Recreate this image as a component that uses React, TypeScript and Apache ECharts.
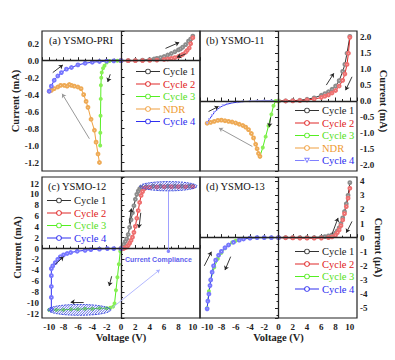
import React, { useEffect, useRef } from "react";
import * as echarts from "echarts";

// ---------- data (V, I) ----------
const aCycle1: number[][] = [[0,0],[1,0],[2,0.002],[3,0.006],[4,0.012],[4.6,0.02],[5,0.027],[5.5,0.037],[6,0.05],[6.5,0.067],[7,0.085],[7.5,0.105],[8,0.128],[8.3,0.14],[8.6,0.16],[9,0.19],[9.4,0.23],[9.7,0.255],[10,0.29]];
const aCycle2: number[][] = [[10,0.27],[9.7,0.2],[9.5,0.15],[9.2,0.12],[9,0.1],[8.6,0.075],[8.3,0.06],[8,0.05],[7.5,0.037],[7,0.028],[6.5,0.02],[6,0.014],[5,0.007],[4,0.003],[3,0.001],[2,0],[1,0],[0,0]];
const aCycle3: number[][] = [[0,0],[-0.5,0],[-1,0],[-1.6,-0.003],[-2,-0.02],[-2.3,-0.06],[-2.5,-0.09],[-2.68,-0.14],[-2.75,-0.2],[-2.8,-0.29],[-2.82,-0.45],[-2.85,-0.65],[-2.88,-0.85],[-2.9,-1.0]];
const aNDR: number[][] = [[-3.0,-1.2],[-3.2,-1.1],[-3.47,-0.96],[-3.7,-0.82],[-4.17,-0.69],[-4.6,-0.55],[-4.86,-0.48],[-5.2,-0.4],[-5.56,-0.33],[-6.0,-0.31],[-6.5,-0.3],[-6.9,-0.29],[-7.2,-0.28],[-7.5,-0.3],[-7.9,-0.29],[-8.4,-0.29],[-8.8,-0.31],[-9.3,-0.33],[-9.7,-0.35],[-10,-0.36]];
const aCycle4: number[][] = [[-10,-0.36],[-9.7,-0.3],[-9.3,-0.23],[-8.8,-0.18],[-8.3,-0.14],[-7.6,-0.1],[-6.9,-0.08],[-6,-0.05],[-5,-0.03],[-4,-0.018],[-3,-0.01],[-2,-0.005],[-1,-0.002],[0,0]];

const bCycle1: number[][] = [[0,0],[1,0.002],[2,0.01],[3,0.025],[4,0.055],[5,0.1],[6,0.18],[6.5,0.23],[7,0.29],[7.5,0.37],[8,0.47],[8.5,0.64],[9,0.93],[9.3,1.15],[9.6,1.5],[10,2.03]];
const bCycle2: number[][] = [[10,2.0],[9.8,1.5],[9.6,1.15],[9.3,0.85],[9,0.65],[8.5,0.47],[8,0.33],[7.5,0.25],[7,0.19],[6.5,0.15],[6,0.11],[5,0.06],[4,0.03],[3,0.012],[2,0.004],[1,0],[0,0]];
const bCycle3: number[][] = [[0,0],[-0.4,0],[-0.7,-0.15],[-1.0,-0.42],[-1.4,-0.78],[-1.8,-1.12],[-2.2,-1.46],[-2.6,-1.74]];
const bNDR: number[][] = [[-2.6,-1.74],[-2.8,-1.65],[-3.0,-1.5],[-3.2,-1.36],[-3.5,-1.16],[-3.8,-1.02],[-4.2,-0.9],[-4.6,-0.82],[-5.0,-0.77],[-5.5,-0.73],[-6.0,-0.69],[-6.5,-0.66],[-7.0,-0.64],[-7.5,-0.62],[-8.0,-0.6],[-8.5,-0.61],[-9.0,-0.64],[-9.5,-0.67],[-10,-0.7]];
const bCycle4: number[][] = [[-10,-0.7],[-9.7,-0.58],[-9.3,-0.45],[-9,-0.36],[-8.6,-0.27],[-8.2,-0.2],[-7.8,-0.15],[-7.2,-0.1],[-6.5,-0.06],[-5.8,-0.04],[-5,-0.02],[-4,-0.01],[-3,-0.005],[-2,0],[-1,0],[0,0]];

const cCycle1: number[][] = [[0,0],[0.2,0.3],[0.4,0.8],[0.6,1.3],[0.8,1.8],[1.0,2.6],[1.2,3.9],[1.4,5.3],[1.6,6.6],[1.8,7.9],[2.0,9.1],[2.2,10.0],[2.4,10.6],[2.6,11.0],[2.8,11.3],[3.5,11.4],[4.5,11.5],[5.5,11.5],[6.5,11.5],[7.5,11.5],[8.5,11.5],[9.5,11.5],[10,11.5]];
const cCycle2: number[][] = [[10,11.4],[9,11.4],[8,11.4],[7,11.4],[6,11.4],[5,11.35],[4,11.3],[3.4,11.2],[3.2,11.0],[3.0,10.5],[2.8,9.8],[2.6,8.5],[2.4,7.0],[2.2,5.6],[2.0,4.1],[1.8,3.0],[1.6,2.1],[1.4,1.5],[1.2,1.0],[1.0,0.6],[0.8,0.3],[0.5,0.1],[0.3,0],[0,0]];
const cCycle3: number[][] = [[0,0],[-0.1,-0.5],[-0.3,-2.9],[-0.5,-5.3],[-0.7,-7.7],[-0.9,-10.1],[-1.1,-10.7],[-1.5,-10.9],[-2,-11.0],[-3,-11.0],[-4,-11.1],[-5,-11.1],[-6,-11.2],[-7,-11.2],[-8,-11.3],[-9,-11.3],[-10,-11.3]];
const cCycle4: number[][] = [[-9.7,-11.2],[-9.7,-9],[-9.7,-7],[-9.7,-5],[-9.7,-3.7],[-9.5,-3.2],[-9.15,-2.6],[-8.8,-2.0],[-8.45,-1.5],[-8.0,-1.15],[-7.5,-0.9],[-7,-0.72],[-6.1,-0.5],[-5,-0.32],[-4.2,-0.2],[-3,-0.1],[-1.9,0],[-1,0],[0,0]];

const dCycle1: number[][] = [[0,0],[1,0],[2,0],[3,0],[4,0],[5,0.01],[6,0.04],[6.5,0.07],[7,0.12],[7.5,0.2],[8,0.33],[8.25,0.48],[8.5,0.7],[8.75,1.0],[9,1.4],[9.25,1.85],[9.5,2.4],[9.75,3.0],[10,3.9]];
const dCycle2: number[][] = [[10,3.5],[9.75,2.8],[9.5,2.2],[9.25,1.7],[9,1.25],[8.75,0.85],[8.5,0.55],[8.25,0.35],[8,0.18],[7.5,0.05],[7,0],[6,-0.03],[5,-0.04],[4,-0.04],[3,-0.03],[2,-0.02],[1,-0.01],[0,0]];
const dCycle3: number[][] = [[0,0],[-1,0],[-2,0],[-3,0],[-4,-0.02],[-5,-0.08],[-6,-0.22],[-6.5,-0.35],[-7,-0.52],[-7.5,-0.75],[-8,-1.08],[-8.5,-1.5],[-9,-2.1],[-9.5,-3.0],[-9.75,-3.8],[-10,-5.0]];
const dCycle4: number[][] = [[-10,-5.05],[-9.9,-4.5],[-9.75,-4.0],[-9.6,-3.4],[-9.5,-3.0],[-9.3,-2.45],[-9.1,-2.0],[-8.8,-1.6],[-8.4,-1.25],[-8,-0.98],[-7.5,-0.72],[-7,-0.52],[-6.3,-0.33],[-5.5,-0.18],[-4.9,-0.1],[-4,-0.04],[-3,0],[-2,0],[-1,0],[0,0]];

// arrows [x1, y1, x2, y2] in data units
const aArrows: number[][] = [[-9.5,-0.14,-8.1,-0.05],[-1.5,-0.16,-1.85,-0.25],[6.2,0.145,8.1,0.215],[9.0,0.08,7.8,0.04]];
const aCurvedArrow: number[] = [-4.4,-0.92,-8.2,-0.39];
const bArrows: number[][] = [[-9.8,-0.33,-8.4,-0.17],[-1.1,-0.52,-1.3,-0.82],[6.7,0.5,7.75,0.87],[10.3,0.76,9.4,0.34]];
const bCurvedArrow: number[] = [-3.66,-1.43,-8.35,-0.85];
const cArrows: number[][] = [[1.15,4.6,1.45,7.4],[2.75,6.6,2.5,3.8],[-9.15,-2.9,-8.0,-1.5],[-1.3,-5.1,-1.65,-6.9],[-5.2,-9.85,-7.0,-9.85]];
const dArrows: number[][] = [[-10.4,-2.0,-9.4,-1.0],[-6.7,-1.35,-7.5,-2.3],[7.5,0.25,8.35,1.4],[10.3,1.15,9.5,0.35]];

// current compliance annotations (panel c)
const cComplianceLine: number[] = [6.6, 10.7, 6.6, -0.5];
const cComplianceCurve: number[] = [-1.2, -10.9, 5.4, -3.9];
const cComplianceLabel: number[] = [5.2, -2.0];
const cEllipses: number[][] = [[6.6, 11.5, 4.0, 0.85], [-5.8, -11.3, 4.4, 1.0]];

const panelTitles = ["(a) YSMO-PRI", "(b) YSMO-11", "(c) YSMO-12", "(d) YSMO-13"];
const yRanges: number[][] = [[-1.3, 0.35], [-2.2, 2.2], [-12.8, 13.2], [-5.7, 4.3]];
const ySplits = [8, 8, 13, 10];
const yNames = ["Current (mA)", "Current (mA)", "Current (mA)", "Current (\u03bcA)"];
const xName = "Voltage (V)";

const FONT = "'Liberation Serif', 'Times New Roman', serif";

const STY: Record<string, { line: string; mark: string; text: string }> = {
  "Cycle 1": { line: "#333333", mark: "#8c8c8c", text: "#1a1a1a" },
  "Cycle 2": { line: "#e02828", mark: "#ee7070", text: "#e02020" },
  "Cycle 3": { line: "#55ee22", mark: "#88f055", text: "#55e020" },
  NDR: { line: "#f0a040", mark: "#eeaa55", text: "#ee9a30" },
  "Cycle 4": { line: "#3030f0", mark: "#7777ff", text: "#2a2aee" },
};

// legend icons: line with an open marker
const ICON_CIRCLE =
  "path://M0,2.5H9.3V3.5H0Z M14.7,2.5H24V3.5H14.7Z M9.2,3A2.8,2.8 0 1 1 14.8,3A2.8,2.8 0 1 1 9.2,3Z M10.1,3A1.9,1.9 0 1 0 13.9,3A1.9,1.9 0 1 0 10.1,3Z";
const ICON_TRI =
  "path://M0,2.5H9.5V3.5H0Z M14.5,2.5H24V3.5H14.5Z M9,0.3H15L12,5.7Z M10.6,1.2L12,3.8L13.4,1.2Z";

export default function App() {
  const ref = useRef<HTMLDivElement>(null);
  useEffect(() => {
    if (!ref.current) return;
    const chart = echarts.init(ref.current, undefined, { renderer: "svg" });

    const grids = [
      { left: 42, top: 31, width: 158, height: 140 },
      { left: 200, top: 31, width: 157, height: 140 },
      { left: 42, top: 177, width: 158, height: 141 },
      { left: 200, top: 177, width: 157, height: 141 },
    ].map((g) => ({ ...g, show: true, borderColor: "#222", borderWidth: 1.2, backgroundColor: "transparent" }));

    const xAxes = [0, 1, 2, 3].map((gi) => {
      const showLabel = gi >= 2;
      return {
        type: "value", gridIndex: gi, min: -11, max: 11, splitNumber: 11,
        axisLine: { show: false }, splitLine: { show: false },
        axisTick: { show: true, inside: true, length: 3.5, lineStyle: { color: "#222", width: 1 } },
        minorTick: { show: true, splitNumber: 2, length: 2, lineStyle: { color: "#222" } },
        axisLabel: { show: showLabel, fontSize: 9, fontWeight: "bold", fontFamily: FONT, color: "#222", margin: 4, showMinLabel: false, showMaxLabel: false },
        name: showLabel ? xName : "", nameLocation: "middle", nameGap: 13,
        nameTextStyle: { fontSize: 10.5, fontWeight: "bold", fontFamily: FONT, color: "#222" },
      };
    });

    const yAxes = [0, 1, 2, 3].map((gi) => {
      const right = gi === 1 || gi === 3;
      const dec = gi < 2 ? 1 : 0;
      return {
        type: "value", gridIndex: gi, min: yRanges[gi][0], max: yRanges[gi][1], splitNumber: ySplits[gi],
        position: right ? "right" : "left",
        axisLine: { show: false }, splitLine: { show: false },
        axisTick: { show: true, inside: true, length: 3.5, lineStyle: { color: "#222", width: 1 } },
        minorTick: { show: true, splitNumber: 2, length: 2, lineStyle: { color: "#222" } },
        axisLabel: {
          fontSize: 9, fontWeight: "bold", fontFamily: FONT, color: "#222", margin: 3,
          showMinLabel: false, showMaxLabel: false,
          formatter: (v: number) => (Math.abs(v) < 1e-9 ? 0 : v).toFixed(dec),
        },
        name: yNames[gi], nameLocation: "middle", nameGap: right ? 16 : 17, nameRotate: right ? -90 : 90,
        nameTextStyle: { fontSize: 10.5, fontWeight: "bold", fontFamily: FONT, color: "#222" },
      };
    });

    const series: any[] = [];
    const panels: { p: string; gi: number; items: [string, number[][]][] }[] = [
      { p: "a", gi: 0, items: [["Cycle 1", aCycle1], ["Cycle 2", aCycle2], ["Cycle 3", aCycle3], ["NDR", aNDR], ["Cycle 4", aCycle4]] },
      { p: "b", gi: 1, items: [["Cycle 1", bCycle1], ["Cycle 2", bCycle2], ["Cycle 3", bCycle3], ["NDR", bNDR], ["Cycle 4", bCycle4]] },
      { p: "c", gi: 2, items: [["Cycle 1", cCycle1], ["Cycle 2", cCycle2], ["Cycle 3", cCycle3], ["Cycle 4", cCycle4]] },
      { p: "d", gi: 3, items: [["Cycle 1", dCycle1], ["Cycle 2", dCycle2], ["Cycle 3", dCycle3], ["Cycle 4", dCycle4]] },
    ];

    // zero lines
    panels.forEach(({ gi }) => {
      series.push({
        type: "line", name: "", xAxisIndex: gi, yAxisIndex: gi, data: [], silent: true,
        markLine: {
          silent: true, symbol: "none", label: { show: false },
          lineStyle: { color: "#222", width: 1.3, type: "solid" },
          data: [{ xAxis: 0 }, { yAxis: 0 }],
        },
      });
    });

    panels.forEach(({ p, gi, items }) => {
      items.forEach(([n, data]) => {
        const s = STY[n];
        const isB4 = p === "b" && n === "Cycle 4";
        series.push({
          type: "line", name: `${p}|${n}`, xAxisIndex: gi, yAxisIndex: gi, data, z: 3,
          symbol: isB4 ? "triangle" : "emptyCircle", symbolRotate: isB4 ? 180 : 0,
          symbolSize: n === "Cycle 3" ? 2 : 2.8, showSymbol: true,
          lineStyle: { color: s.line, width: 1 },
          itemStyle: { color: isB4 ? "#a8a8ff" : s.mark, borderWidth: 0.8 },
        });
      });
    });

    const arrowLines = (arr: number[][]) =>
      arr.map((a) => [{ coord: [a[0], a[1]] }, { coord: [a[2], a[3]] }]);

    const arrowSets: [number, number[][], number[] | null][] = [
      [0, aArrows, aCurvedArrow], [1, bArrows, bCurvedArrow], [2, cArrows, null], [3, dArrows, null],
    ];
    arrowSets.forEach(([gi, arr, curved]) => {
      const data: any[] = arrowLines(arr);
      if (curved) {
        data.push([
          { coord: [curved[0], curved[1]], lineStyle: { color: "#999", width: 1, curveness: -0.3 } },
          { coord: [curved[2], curved[3]] },
        ]);
      }
      series.push({
        type: "line", name: "", xAxisIndex: gi, yAxisIndex: gi, data: [], silent: true, z: 5,
        markLine: {
          silent: true, symbol: ["none", "arrow"], symbolSize: 4, label: { show: false },
          lineStyle: { color: "#222", width: 0.9, type: "solid" },
          data,
        },
      });
    });

    // compliance annotations
    series.push({
      type: "line", name: "", xAxisIndex: 2, yAxisIndex: 2, data: [], silent: true, z: 5,
      markLine: {
        silent: true, label: { show: false }, symbolSize: 3.5,
        data: [
          [
            { coord: [cComplianceLine[0], cComplianceLine[1]], symbol: "none", lineStyle: { color: "#8888ff", width: 0.8, type: "solid" } },
            { coord: [cComplianceLine[2], cComplianceLine[3]], symbol: "circle" },
          ],
          [
            { coord: [cComplianceCurve[0], cComplianceCurve[1]], symbol: "none", lineStyle: { color: "#aab0ff", width: 0.9, type: "solid", curveness: -0.4 } },
            { coord: [cComplianceCurve[2], cComplianceCurve[3]], symbol: "arrow" },
          ],
        ],
      },
    });
    series.push({
      type: "scatter", name: "", xAxisIndex: 2, yAxisIndex: 2, data: [cComplianceLabel], symbolSize: 1, silent: true, z: 6,
      itemStyle: { color: "rgba(0,0,0,0)" },
      label: { show: true, position: "inside", formatter: "Current Compliance", color: "#3030e8", fontSize: 7, fontWeight: "bold", fontFamily: "'Liberation Sans', Arial, sans-serif" },
    });
    series.push({
      type: "custom", name: "", xAxisIndex: 2, yAxisIndex: 2, data: cEllipses, silent: true, z: 4,
      renderItem: (params: any, api: any) => {
        const c = api.coord([api.value(0), api.value(1)]);
        const sz = api.size([api.value(2), api.value(3)]);
        const a = sz[0], b = sz[1];
        const children: any[] = [];
        const R = Math.sqrt(a * a + b * b);
        const A = 1 / (a * a) + 1 / (b * b);
        for (let k = -R; k <= R; k += 2.6) {
          const B = (-2 * k) / (b * b);
          const C = (k * k) / (b * b) - 1;
          const D = B * B - 4 * A * C;
          if (D <= 0) continue;
          const x1 = (-B - Math.sqrt(D)) / (2 * A);
          const x2 = (-B + Math.sqrt(D)) / (2 * A);
          children.push({
            type: "line",
            shape: { x1: c[0] + x1, y1: c[1] + k - x1, x2: c[0] + x2, y2: c[1] + k - x2 },
            style: { stroke: "#3344dd", lineWidth: 0.8 },
          });
        }
        children.push({
          type: "ellipse", shape: { cx: c[0], cy: c[1], rx: a, ry: b },
          style: { fill: "none", stroke: "#3344dd", lineWidth: 0.9, lineDash: [2, 1] },
        });
        return { type: "group", children };
      },
    });

    const legendPos = [
      { left: 136, top: 66 }, { left: 295, top: 105 }, { left: 47, top: 195 }, { left: 295, top: 246 },
    ];
    const legends = panels.map(({ p, items }, i) => ({
      ...legendPos[i], orient: "vertical", padding: 0, itemGap: 1.5, itemWidth: 24, itemHeight: 6,
      selectedMode: false,
      formatter: (name: string) => name.split("|")[1],
      textStyle: { fontSize: 10.5, fontFamily: FONT, fontWeight: "normal", lineHeight: 11, padding: [0, 0, 0, -2] },
      data: items.map(([n]) => ({
        name: `${p}|${n}`,
        icon: p === "b" && n === "Cycle 4" ? ICON_TRI : ICON_CIRCLE,
        itemStyle: { color: p === "b" && n === "Cycle 4" ? "#8080ff" : STY[n].line, borderWidth: 0 },
        textStyle: { color: STY[n].text },
      })),
    }));

    const titlePos = [
      { left: 49, top: 35 }, { left: 206, top: 35 }, { left: 48, top: 181 }, { left: 206, top: 181 },
    ];
    const titles = panelTitles.map((t, i) => ({
      text: t, ...titlePos[i], padding: 0,
      textStyle: { fontSize: 10.5, fontWeight: "normal", fontFamily: FONT, color: "#111" },
    }));

    chart.setOption({
      animation: false,
      backgroundColor: "#ffffff",
      title: titles,
      legend: legends,
      grid: grids,
      xAxis: xAxes,
      yAxis: yAxes,
      series,
    });
    return () => chart.dispose();
  }, []);
  return <div ref={ref} style={{ position: "absolute", left: 0, top: 0, width: 395, height: 360 }} />;
}
